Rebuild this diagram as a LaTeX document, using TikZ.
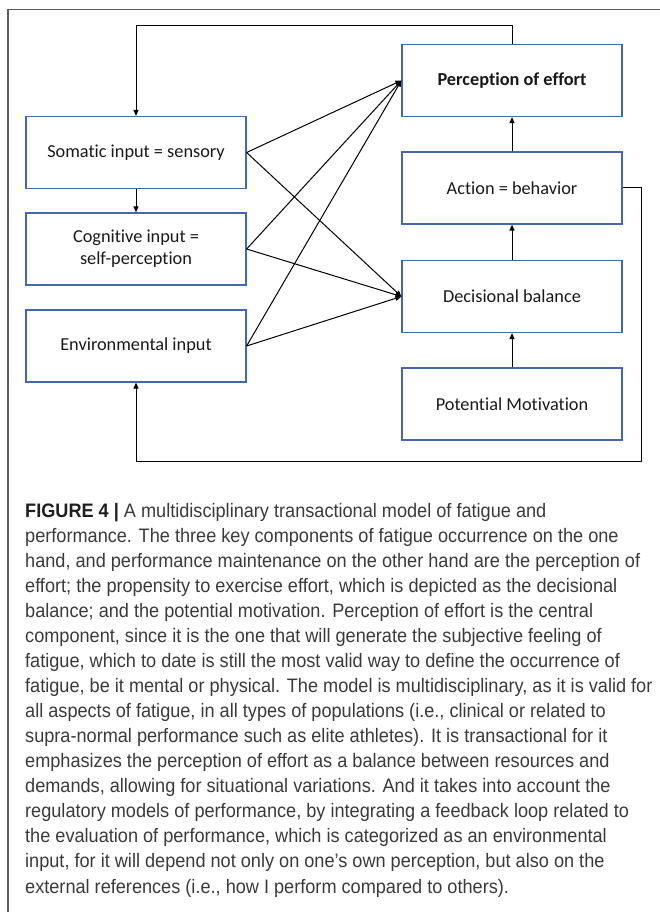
\documentclass[tikz,border=0pt]{standalone}
\usepackage{fontspec}
\setmainfont[FakeStretch=0.93]{Liberation Sans}
\newfontfamily\boxfont[Ligatures=NoCommon]{Carlito}
\usetikzlibrary{arrows.meta}
\definecolor{boxblue}{RGB}{68,104,176}
\definecolor{captxt}{RGB}{58,58,58}
\definecolor{framegray}{RGB}{90,90,90}

\begin{document}
\begin{tikzpicture}[x=1pt,y=-1pt,
  blk/.style={draw=boxblue, line width=1.2pt, minimum width=220pt, minimum height=72pt,
    inner sep=0pt, font=\boxfont\fontsize{18.3}{22}\selectfont, align=center, text=black!90},
  conn/.style={line width=1pt, -{Triangle[length=6pt,width=5pt]}},
  capline/.style={anchor=base west, inner sep=0pt, font=\fontsize{19.5}{25}\selectfont, text=captxt}
]
\useasboundingbox (0,0) rectangle (659,912);

% outer frame (open to the right and bottom)
\draw[framegray, line width=1.5pt] (8,930) -- (8,9.5) -- (680,9.5);

% right column
\node[blk, font=\boxfont\bfseries\fontsize{18.3}{22}\selectfont] (per) at (512,80.5) {Perception of effort};
\node[blk] (act) at (512,188) {Action = behavior};
\node[blk] (dec) at (512,296.5) {Decisional balance};
\node[blk] (pot) at (512,404) {Potential Motivation};

% left column
\node[blk] (som) at (136,152.5) {Somatic input = sensory};
\node[blk] (cog) at (136,249) {Cognitive input =\\self-perception};
\node[blk] (env) at (136,346) {Environmental input};

% vertical links
\draw[conn] (som) -- (cog);
\draw[conn] (pot) -- (dec);
\draw[conn] (dec) -- (act);
\draw[conn] (act) -- (per);

% inputs feeding perception and decision
\foreach \s in {som,cog,env}{
  \draw[conn] (\s.east) -- (per.west);
  \draw[conn] (\s.east) -- (dec.west);
}

% feedback loops
\coordinate (rc) at (641,461);
\draw[conn] (per.north) -- ++(0,-18) -| (som.north);
\draw[conn] (act.east) -| (rc) -| (env.south);

% caption
\node[capline] (c1) at (25,517) {{\color{black!88}\bfseries FIGURE 4 |} A multidisciplinary transactional model of fatigue and};
\node[capline] (c2) at (25,542.07) {performance. The three key components of fatigue occurrence on the one};
\node[capline] (c3) at (25,567.13) {hand, and performance maintenance on the other hand are the perception of};
\node[capline] (c4) at (25,592.2) {effort; the propensity to exercise effort, which is depicted as the decisional};
\node[capline] (c5) at (25,617.27) {balance; and the potential motivation. Perception of effort is the central};
\node[capline] (c6) at (25,642.33) {component, since it is the one that will generate the subjective feeling of};
\node[capline] (c7) at (25,667.4) {fatigue, which to date is still the most valid way to define the occurrence of};
\node[capline] (c8) at (25,692.47) {fatigue, be it mental or physical. The model is multidisciplinary, as it is valid for};
\node[capline] (c9) at (25,717.53) {all aspects of fatigue, in all types of populations (i.e., clinical or related to};
\node[capline] (c10) at (25,742.6) {supra-normal performance such as elite athletes). It is transactional for it};
\node[capline] (c11) at (25,767.67) {emphasizes the perception of effort as a balance between resources and};
\node[capline] (c12) at (25,792.73) {demands, allowing for situational variations. And it takes into account the};
\node[capline] (c13) at (25,817.8) {regulatory models of performance, by integrating a feedback loop related to};
\node[capline] (c14) at (25,842.87) {the evaluation of performance, which is categorized as an environmental};
\node[capline] (c15) at (25,867.93) {input, for it will depend not only on one’s own perception, but also on the};
\node[capline] (c16) at (25,893) {external references (i.e., how I perform compared to others).};
\end{tikzpicture}
\end{document}
